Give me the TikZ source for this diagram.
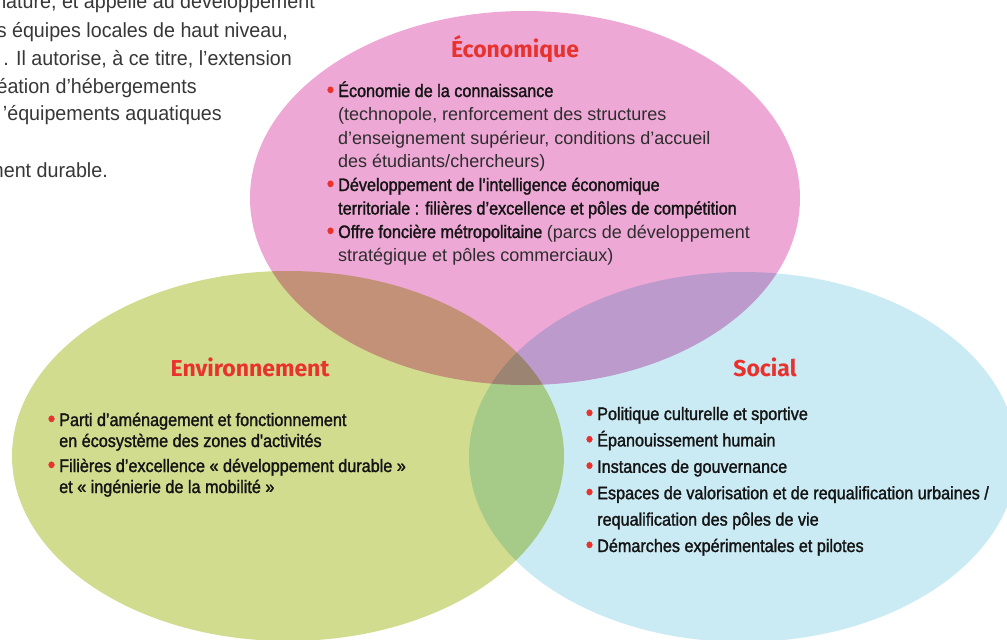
\documentclass[tikz,border=0pt]{standalone}
\usepackage{fontspec}
\setmainfont{Liberation Sans}
\newfontfamily\condfont{Liberation Sans}[FakeStretch=0.9,FakeBold=1.5]
\newfontfamily\pagefont{Liberation Sans}[FakeStretch=0.96]
\newfontfamily\titlefont{Fira Sans}
\usepackage{xcolor}
\usepackage{graphicx}
\usepackage{tikz}
\usetikzlibrary{positioning}
\definecolor{ecopink}{RGB}{238,168,214}
\definecolor{envgreen}{RGB}{209,220,143}
\definecolor{socblue}{RGB}{203,235,244}
\definecolor{vennred}{RGB}{232,50,46}
\definecolor{bodytext}{RGB}{20,20,20}
\definecolor{softtext}{RGB}{45,45,45}
\definecolor{pagetext}{RGB}{55,55,55}
\newcommand{\puce}{\llap{\textcolor{vennred}{\raisebox{-0.6pt}{\scalebox{1.3}{\textbullet}}}\hspace{4pt}}}
\newcommand{\paren}[1]{{\rmfamily\color{softtext}#1}}

\begin{document}
\begin{tikzpicture}[x=1pt,y=-1pt,
  titre/.style={font=\titlefont\bfseries\fontsize{23}{23}\selectfont,text=vennred,inner sep=0pt,anchor=base},
  liste/.style={text=bodytext,align=left,inner sep=0pt,anchor=base west},
  page/.style={font=\pagefont\fontsize{20.5}{24}\selectfont,text=pagetext,inner sep=0pt,anchor=base east}]
\def\ecoellipse{(525,198) ellipse (275 and 187)}
\def\envellipse{(288,456) ellipse (276 and 185)}
\def\socellipse{(743,457) ellipse (274 and 185)}
\useasboundingbox (0,0) rectangle (1007,640);
  \begin{scope}[blend group=multiply]
    \fill[ecopink] \ecoellipse;
    \fill[envgreen] \envellipse;
    \fill[socblue] \socellipse;
  \end{scope}
  \node[page] (ligne1) at (315,8) {nature, et appelle au développement};
  \node[page] (ligne2) at (288,37) {s équipes locales de haut niveau,};
  \node[page] (ligne3) at (292,65) {. Il autorise, à ce titre, l’extension};
  \node[page] (ligne4) at (197,93) {éation d’hébergements};
  \node[page] (ligne5) at (222,120) {’équipements aquatiques};
  \node[page] (ligne7) at (108,177) {ment durable.};
  \node[titre] (economique) at (515,57) {Économique};
  \node[titre] (environnement) at (250,376) {Environnement};
  \node[titre] (social) at (765,376) {Social};
  \node[liste,font=\condfont\fontsize{18}{23.5}\selectfont] (listeEco) at (338,261.5) {%
    \puce Économie de la connaissance\\
    \paren{(technopole, renforcement des structures}\\
    \paren{d’enseignement supérieur, conditions d’accueil}\\
    \paren{des étudiants/chercheurs)}\\
    \puce Développement de l’intelligence économique\\
    territoriale : filières d’excellence et pôles de compétition\\
    \puce Offre foncière métropolitaine \paren{(parcs de développement}\\
    \paren{stratégique et pôles commerciaux)}};
  \node[liste,font=\condfont\fontsize{18}{21}\selectfont] (listeEnv) at (59,493) {%
    \puce Parti d’aménagement et fonctionnement\\
    en écosystème des zones d'activités\\[4pt]
    \puce Filières d’excellence « développement durable »\\
    et « ingénierie de la mobilité »};
  \node[liste,font=\condfont\fontsize{18}{26.4}\selectfont] (listeSoc) at (597,552) {%
    \puce Politique culturelle et sportive\\
    \puce Épanouissement humain\\
    \puce Instances de gouvernance\\
    \puce Espaces de valorisation et de requalification urbaines /\\
    requalification des pôles de vie\\
    \puce Démarches expérimentales et pilotes};
\end{tikzpicture}
\end{document}
